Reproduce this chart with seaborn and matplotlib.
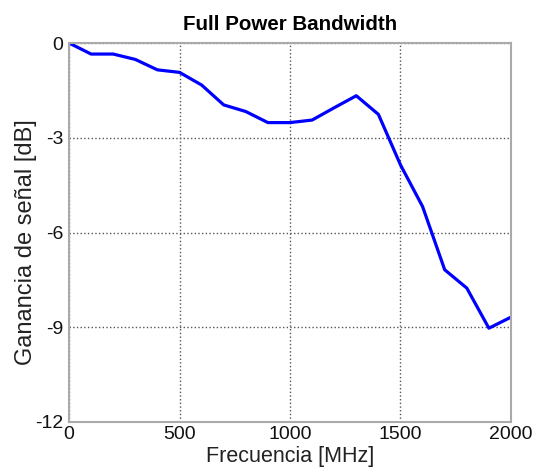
import numpy as np
import pandas as pd
import seaborn as sns
import matplotlib.pyplot as plt

# -------------------Data --------------------
freq_mhz = [0, 100, 200, 300, 400, 500, 600, 700, 800, 900, 1000,
            1100, 1200, 1300, 1400, 1500, 1600, 1700, 1800, 1900, 2000]
gain_db = [0.0, -0.35, -0.35, -0.52, -0.85, -0.93, -1.33, -1.96, -2.17, -2.52, -2.52,
           -2.44, -2.05, -1.67, -2.26, -3.86, -5.18, -7.18, -7.76, -9.03, -8.68]
x_ticks = [0, 500, 1000, 1500, 2000]
y_ticks = [0, -3, -6, -9, -12]

df = pd.DataFrame({'freq': freq_mhz, 'gain': gain_db})

# -------------------Plot --------------------
sns.set_style('white')
plt.rcParams['font.family'] = ['Liberation Sans', 'DejaVu Sans']
plt.rcParams['axes.unicode_minus'] = False

fig = plt.figure(figsize=(5.33, 4.67), dpi=100)
ax = fig.add_axes([69 / 533, 1 - 422 / 467, (511 - 69) / 533, (422 - 43) / 467])

sns.lineplot(data=df, x='freq', y='gain', color='#0000ff', linewidth=2.3, ax=ax)

ax.set_xlim(0, 2000)
ax.set_ylim(-12, 0)
ax.set_xticks(x_ticks)
ax.set_yticks(y_ticks)
ax.tick_params(direction='in', length=4, labelsize=14, colors='#111111')
ax.tick_params(axis='x', pad=3)
ax.tick_params(axis='y', pad=4)
ax.grid(True, linestyle=':', color='#555555', linewidth=1)
for s in ax.spines.values():
    s.set_color('#aaaaaa')
    s.set_linewidth(1.5)
    s.set_visible(True)

ax.set_title('Full Power Bandwidth', fontsize=14.8, fontweight='bold', pad=9, color='black')
ax.set_xlabel('Frecuencia [MHz]', fontsize=15.5, labelpad=2, color='#222222')
ax.set_ylabel('Ganancia de señal [dB]', fontsize=17, color='#222222')
ax.yaxis.set_label_coords(-0.072, 0.475)

plt.savefig('out.png', dpi=100)
plt.close()
